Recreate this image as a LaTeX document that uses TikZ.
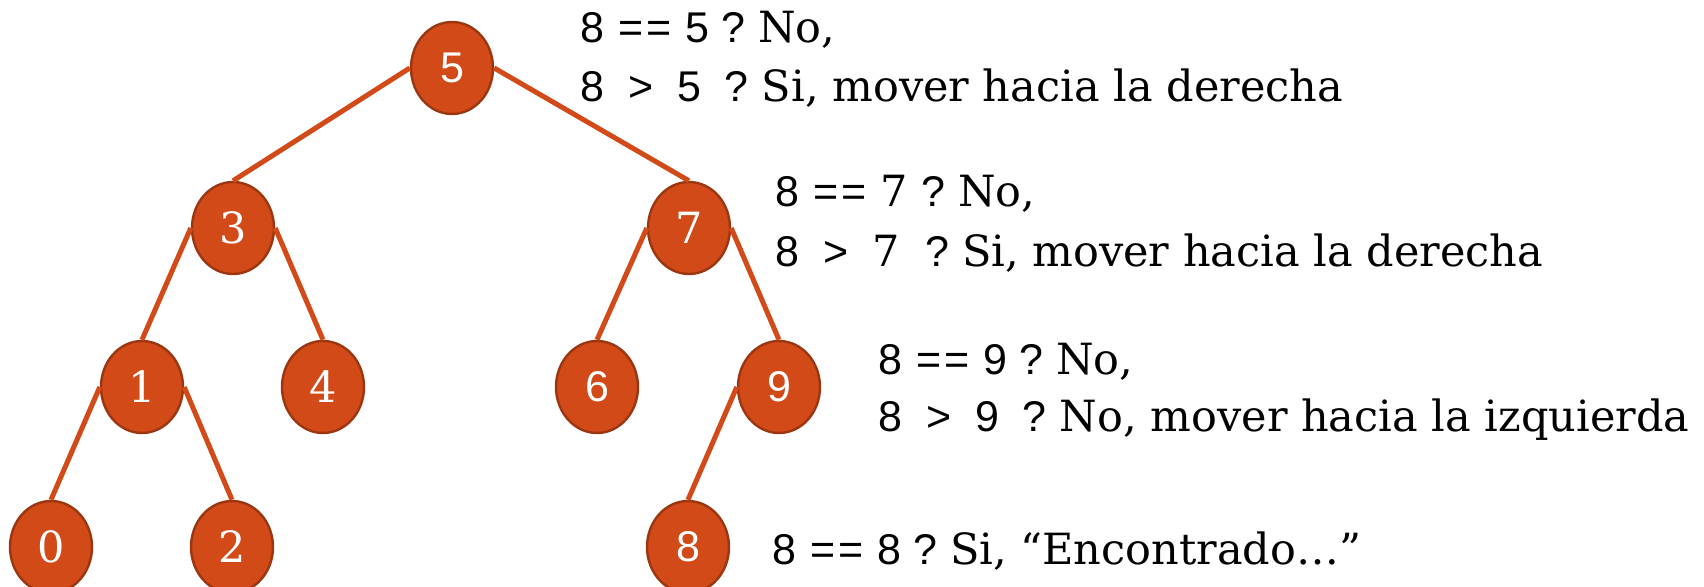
\documentclass[tikz,border=0pt]{standalone}
\usepackage{fontspec}
\setmainfont{DejaVu Serif}
\newfontfamily\numfont{Liberation Sans}
\usepackage{tikz}
\usetikzlibrary{positioning,shapes.geometric}

\definecolor{bstfill}{RGB}{210,74,24}
\definecolor{bstborder}{RGB}{156,54,16}
\newcommand{\tfont}{\fontsize{21.5}{26}\selectfont}
\newcommand{\eqeq}{\kern1pt=\kern1.5pt=\kern1pt}

\begin{document}
\begin{tikzpicture}[
  x=0.5pt, y=-0.5pt,
  tnode/.style={ellipse, draw=bstborder, fill=bstfill, line width=1.2pt,
    minimum width=41pt, minimum height=46pt, inner sep=0pt,
    text=white, font=\tfont},
  edge/.style={draw=bstfill, line width=2.5pt},
  cmp/.style={anchor=base west, inner sep=0pt, font=\tfont}
]
\useasboundingbox (0,0) rectangle (1704,587);

% ================= Tree =================
\node[tnode] (n5) at (452,68) {\numfont 5};
\node[tnode] (n3) at (233,228) {3};
\node[tnode] (n7) at (689,228) {7};
\node[tnode] (n1) at (142,387) {1};
\node[tnode] (n4) at (323,387) {4};
\node[tnode] (n6) at (597,387) {\numfont 6};
\node[tnode] (n9) at (779,387) {\numfont 9};
\node[tnode] (n0) at (51,547) {0};
\node[tnode] (n2) at (232,547) {2};
\node[tnode] (n8) at (688,547) {\numfont 8};

\draw[edge] (n5.west) -- (n3.north);
\draw[edge] (n5.east) -- (n7.north);
\draw[edge] (n3.west) -- (n1.north);
\draw[edge] (n3.east) -- (n4.north);
\draw[edge] (n7.west) -- (n6.north);
\draw[edge] (n7.east) -- (n9.north);
\draw[edge] (n1.west) -- (n0.north);
\draw[edge] (n1.east) -- (n2.north);
\draw[edge] (n9.west) -- (n8.north);

% ================= Comparisons =================
\node[cmp] (c5a) at (580,43) {{\numfont 8 \eqeq{} 5 ?}\hspace{0.3em}No,};
\node[cmp] (c5b) at (580,102) {{\numfont 8 \ > \ 5 \ ?}\hspace{0.3em}Si, mover hacia la derecha};

\node[cmp] (c7a) at (775,207) {{\numfont 8 \eqeq{} }7 {\numfont ?}\hspace{0.3em}No,};
\node[cmp] (c7b) at (775,267) {{\numfont 8 \ > \ }7 {\numfont \ ?}\hspace{0.3em}Si, mover hacia la derecha};

\node[cmp] (c9a) at (878,375) {{\numfont 8 \eqeq{} 9 ?}\hspace{0.3em}No,};
\node[cmp] (c9b) at (878,432) {{\numfont 8 \ > \ 9 \ ?}\hspace{0.3em}No, mover hacia la izquierda};

\node[cmp] (c8) at (772,565) {{\numfont 8 \eqeq{} 8 ?}\hspace{0.3em}Si, “Encontrado…”};

\end{tikzpicture}
\end{document}
